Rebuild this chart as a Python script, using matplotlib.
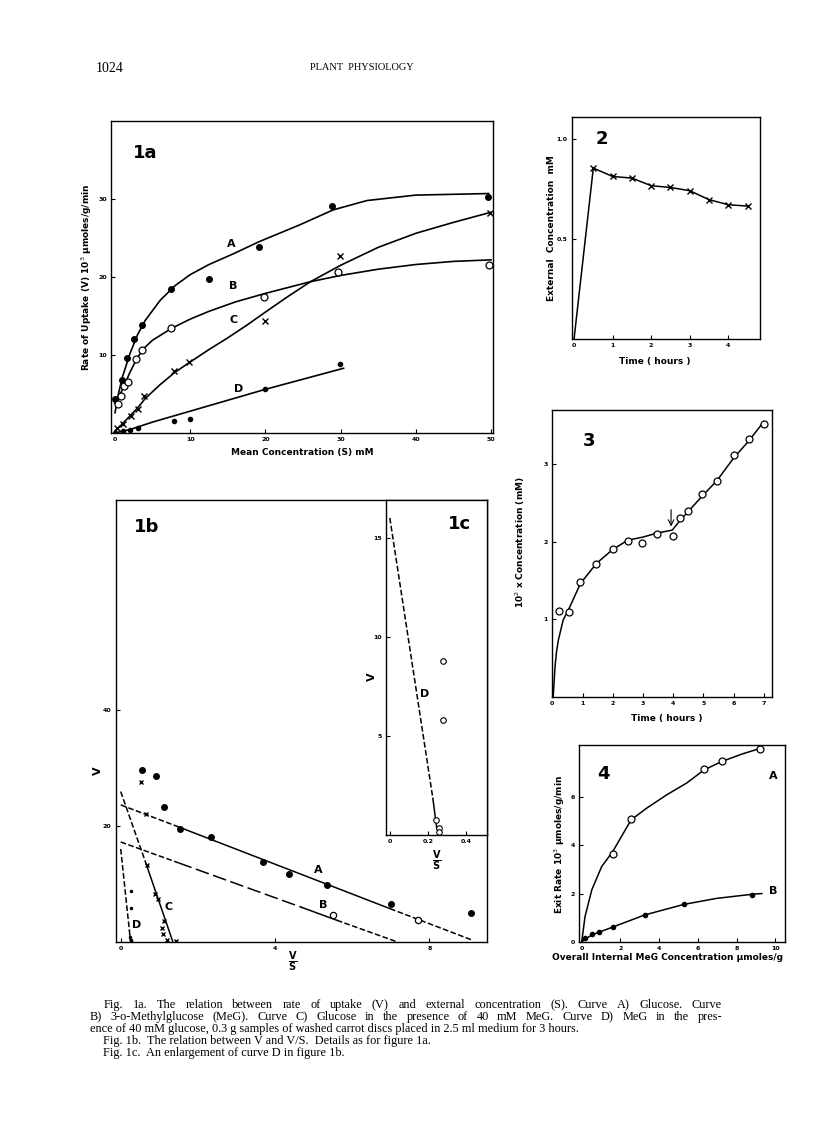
import matplotlib
matplotlib.use('Agg')
import matplotlib.pyplot as plt

W, H = 816, 1143

# ---------------- fig 1a : uptake rate vs concentration ----------------
s_a = [0, 0.9, 1.6, 2.5, 3.6, 7.5, 12.5, 19.1, 28.9, 49.6]
v_a = [4.3, 6.8, 9.6, 12.1, 13.9, 18.5, 19.8, 23.9, 29.1, 30.2]
s_b = [0.44, 0.75, 1.2, 1.7, 2.8, 3.6, 7.5, 19.8, 29.7, 49.7]
v_b = [3.7, 4.7, 6.0, 6.6, 9.5, 10.7, 13.4, 17.4, 20.7, 21.6]
s_c = [0.3, 1.0, 2.1, 3.0, 3.9, 7.9, 9.9, 19.9, 29.9, 49.9]
v_c = [0.6, 1.2, 2.2, 3.1, 4.8, 7.9, 9.1, 14.3, 22.7, 28.2]
s_d = [0, 1.0, 2.0, 3.0, 7.9, 10.0, 20.0, 29.9]
v_d = [0, 0.2, 0.4, 0.7, 1.6, 1.8, 5.6, 8.8]

fit_a_s = [0, 0.5, 1, 2, 3, 4, 6, 8, 10, 12.5, 15.8, 19.1, 24.6, 29, 33.5, 40, 49.7]
fit_a_v = [2.6, 5.2, 7.2, 10.2, 12.6, 14.4, 17.0, 18.9, 20.3, 21.6, 23.0, 24.5, 26.7, 28.6, 29.8, 30.5, 30.7]
fit_b_s = [0, 0.5, 1, 2, 3, 4, 5, 7.5, 10, 12.5, 16, 20, 26, 30, 35, 40, 45, 50]
fit_b_v = [3.8, 4.6, 5.6, 7.8, 9.7, 11.0, 11.9, 13.4, 14.6, 15.6, 16.8, 17.9, 19.4, 20.2, 21.0, 21.6, 22.0, 22.2]
fit_c_s = [0, 1, 2, 3, 4, 6, 8, 10, 12.5, 15, 17.5, 20, 23, 26, 30, 35, 40, 45, 50]
fit_c_v = [0.2, 1.2, 2.2, 3.2, 4.4, 6.2, 7.8, 9.1, 10.7, 12.2, 13.8, 15.5, 17.5, 19.4, 21.5, 23.8, 25.6, 27.0, 28.3]
fit_d_s = [0, 2, 5, 10, 20, 30.4]
fit_d_v = [0, 0.45, 1.4, 2.8, 5.6, 8.3]

# ---------------- fig 1b / 1c : V against V/S ----------------
vs_a = [0.54, 0.91, 1.13, 1.54, 2.34, 3.68, 4.36, 5.35, 7.0, 9.09]
vv_a = [29.6, 28.6, 23.3, 19.4, 18.1, 13.7, 11.6, 9.7, 6.5, 4.9]
vs_b = [5.49, 7.71]
vv_b = [4.6, 3.7]
vs_c = [0.52, 0.66, 0.68, 0.89, 0.97, 1.12, 1.06, 1.10, 1.19, 1.43]
vv_c = [27.6, 22.0, 13.3, 8.3, 7.3, 3.6, 2.3, 1.4, 0.3, 0.2]
vs_d = [0.243, 0.26, 0.257, 0.278, 0.278]
vv_d = [0.75, 0.34, 0.17, 8.8, 5.8]

line_a_x = [0, 1.54, 6.98, 9.1]
line_a_y = [23.6, 19.7, 5.7, 0.3]
line_b_x = [0, 1.5, 4.7, 5.6, 7.15]
line_b_y = [17.2, 13.6, 5.9, 3.7, 0]
line_c_x = [0, 0.67, 1.35]
line_c_y = [25.9, 13.2, 0]
line_d_x = [0, 0.226, 0.247]
line_d_y = [16.0, 1.85, 0.3]

# ---------------- fig 2 : external concentration with time ----------------
t2 = [0.5, 1.0, 1.5, 2.0, 2.5, 3.0, 3.5, 4.0, 4.5]
ext2 = [0.855, 0.813, 0.805, 0.767, 0.758, 0.742, 0.697, 0.672, 0.665]

# ---------------- fig 3 : internal concentration with time ----------------
t3 = [0.23, 0.54, 0.93, 1.46, 2.0, 2.51, 2.97, 3.45, 4.0, 4.24, 4.5, 4.94, 5.45, 6.0, 6.5, 7.0]
conc3 = [1.11, 1.09, 1.48, 1.71, 1.90, 2.01, 1.99, 2.10, 2.08, 2.30, 2.40, 2.62, 2.79, 3.12, 3.32, 3.52]
fit3_t = [0.03, 0.06, 0.09, 0.14, 0.2, 0.36, 0.58, 0.93, 1.46, 2.0, 2.5, 3.0, 3.45, 3.97, 4.24, 4.94, 5.45, 6.0, 6.5, 7.0]
fit3_c = [0, 0.2, 0.39, 0.58, 0.73, 0.99, 1.16, 1.46, 1.72, 1.90, 2.02, 2.06, 2.11, 2.15, 2.28, 2.58, 2.79, 3.08, 3.3, 3.55]

# ---------------- fig 4 : exit rate vs internal MeG ----------------
meg_a = [1.6, 2.55, 6.33, 7.25, 9.2]
exit_a = [3.66, 5.08, 7.18, 7.52, 8.0]
meg_b = [0.17, 0.52, 0.9, 1.64, 3.25, 5.28, 8.81]
exit_b = [0.14, 0.3, 0.42, 0.61, 1.1, 1.55, 1.96]
fit4a_m = [0, 0.17, 0.52, 1.03, 1.6, 2.55, 3.36, 4.39, 5.42, 6.33, 7.25, 8.3, 9.3]
fit4a_e = [0, 1.04, 2.15, 3.12, 3.74, 5.06, 5.55, 6.1, 6.59, 7.14, 7.49, 7.8, 8.05]
fit4b_m = [0, 0.52, 1.64, 3.25, 5.28, 6.97, 8.81, 9.3]
fit4b_e = [0, 0.28, 0.62, 1.11, 1.55, 1.8, 1.97, 2.0]

SANS = 'DejaVu Sans'
SERIF = 'Liberation Serif'
CAP = 8.8

fig = plt.figure(figsize=(W / 100, H / 100), dpi=100)
fig.patch.set_facecolor('white')


def box(left, top, right, bottom):
    return fig.add_axes([left / W, 1 - bottom / H, (right - left) / W, (bottom - top) / H])


def page_text(x, y, s, size, **kw):
    return fig.text(x / W, 1 - y / H, s, fontsize=size, **kw)


def style(ax):
    ax.tick_params(direction='in', length=3, width=0.8, labelsize=4.5, pad=3)
    for lab in ax.get_xticklabels() + ax.get_yticklabels():
        lab.set_fontweight('bold')
        lab.set_family(SANS)
    for sp in ax.spines.values():
        sp.set_linewidth(1.0)


def label(ax, x, y, s, size=8):
    ax.text(x, y, s, fontsize=size, fontweight='bold', family=SANS, ha='center', va='center')


# ---- fig 1a
ax = box(111, 121, 493, 433)
ax.plot(fit_a_s, fit_a_v, 'k-', lw=1.2)
ax.plot(fit_b_s, fit_b_v, 'k-', lw=1.2)
ax.plot(fit_c_s, fit_c_v, 'k-', lw=1.2)
ax.plot(fit_d_s, fit_d_v, 'k-', lw=1.2)
ax.plot(s_a, v_a, 'ko', ms=4)
ax.plot(s_b, v_b, 'o', mfc='white', mec='k', mew=0.9, ms=5)
ax.plot(s_c, v_c, 'kx', ms=4, mew=1)
ax.plot(s_d, v_d, 'ko', ms=3)
ax.set_xlim(-0.53, 50.27)
ax.set_ylim(0, 40)
ax.set_xticks([0, 10, 20, 30, 40, 50])
ax.set_yticks([10, 20, 30])
style(ax)
label(ax, 15.5, 24.2, 'A')
label(ax, 15.7, 18.9, 'B')
label(ax, 15.8, 14.5, 'C')
label(ax, 16.4, 5.6, 'D')
label(ax, 4.0, 35.9, '1a', 13)
ax.set_xlabel('Mean Concentration (S) mM', fontsize=6.5, fontweight='bold', family=SANS, labelpad=4)
ax.set_ylabel('Rate of Uptake (V) 10$^3$ \u03bcmoles/g/min', fontsize=6.5, fontweight='bold',
              family=SANS, labelpad=3)

# ---- fig 1b
ax = box(115.7, 500, 487.3, 941.7)
styles_a = ['--', '-', '--']
for i in range(3):
    ax.plot(line_a_x[i:i + 2], line_a_y[i:i + 2], color='k', ls=styles_a[i], lw=1.1)
styles_b = ['--', (0, (9, 3)), '-', '--']
for i in range(4):
    ax.plot(line_b_x[i:i + 2], line_b_y[i:i + 2], color='k', ls=styles_b[i], lw=1.1)
ax.plot(line_c_x[:2], line_c_y[:2], 'k--', lw=1.1)
ax.plot(line_c_x[1:], line_c_y[1:], 'k-', lw=1.1)
ax.plot(line_d_x[:2], line_d_y[:2], 'k--', lw=1.1)
ax.plot(line_d_x[1:], line_d_y[1:], 'k-', lw=1.1)
ax.plot(vs_a, vv_a, 'ko', ms=4)
ax.plot(vs_b, vv_b, 'o', mfc='white', mec='k', mew=0.9, ms=4.5)
ax.plot(vs_c, vv_c, 'kx', ms=3.5, mew=1)
ax.plot(vs_d, vv_d, 'ko', ms=1.5)
ax.set_xlim(-0.13, 9.5)
ax.set_ylim(0, 76.2)
ax.set_xticks([0, 4, 8])
ax.set_yticks([20, 40])
style(ax)
label(ax, 5.12, 12.4, 'A')
label(ax, 5.25, 6.3, 'B')
label(ax, 1.24, 6.0, 'C')
label(ax, 0.4, 2.9, 'D')
label(ax, 0.67, 71.6, '1b', 13)
page_text(98, 771, 'V', 8, fontweight='bold', family=SANS, rotation=90, ha='center', va='center')
page_text(293, 962, r'$\mathbf{\frac{V}{S}}$', 10, ha='center', va='center')

# ---- fig 1c inset
ax = box(386, 500, 487.3, 835)
ax.plot(line_d_x[:2], line_d_y[:2], 'k--', lw=1.1)
ax.plot(line_d_x[1:], line_d_y[1:], 'k-', lw=1.1)
ax.plot(vs_d, vv_d, 'o', mfc='white', mec='k', mew=0.8, ms=4)
ax.set_xlim(-0.02, 0.512)
ax.set_ylim(0, 16.9)
ax.set_xticks([0, 0.2, 0.4])
ax.set_xticklabels(['0', '0.2', '0.4'])
ax.set_yticks([5, 10, 15])
style(ax)
label(ax, 0.183, 7.1, 'D')
label(ax, 0.365, 15.7, '1c', 13)
page_text(372, 677, 'V', 8, fontweight='bold', family=SANS, rotation=90, ha='center', va='center')
page_text(437, 861, r'$\mathbf{\frac{V}{S}}$', 10, ha='center', va='center')

# ---- fig 2
ax = box(571.7, 117, 760, 339.3)
ax.plot([0] + t2, [0] + ext2, 'k-', lw=1.1)
ax.plot(t2, ext2, 'kx', ms=4, mew=1)
ax.set_xlim(-0.06, 4.82)
ax.set_ylim(0, 1.11)
ax.set_xticks([0, 1, 2, 3, 4])
ax.set_yticks([0.5, 1.0])
style(ax)
label(ax, 0.72, 1.0, '2', 13)
page_text(552, 228, 'External  Concentration  mM', 6.5, fontweight='bold', family=SANS,
          rotation=90, ha='center', va='center')
page_text(655, 362, 'Time ( hours )', 6.5, fontweight='bold', family=SANS, ha='center', va='center')

# ---- fig 3
ax = box(552, 410, 772, 696.7)
ax.plot(fit3_t, fit3_c, 'k-', lw=1.1)
ax.plot(t3, conc3, 'o', mfc='white', mec='k', mew=0.9, ms=5)
ax.annotate('', xy=(3.93, 2.16), xytext=(3.93, 2.45),
            arrowprops=dict(arrowstyle='->', color='k', lw=0.8))
ax.set_xlim(-0.01, 7.27)
ax.set_ylim(0, 3.7)
ax.set_xticks([0, 1, 2, 3, 4, 5, 6, 7])
ax.set_yticks([1, 2, 3])
style(ax)
label(ax, 1.2, 3.3, '3', 13)
page_text(520, 542, '10$^2$ x Concentration (mM)', 6.5, fontweight='bold', family=SANS,
          rotation=90, ha='center', va='center')
page_text(667, 719, 'Time ( hours )', 6.5, fontweight='bold', family=SANS, ha='center', va='center')

# ---- fig 4
ax = box(579, 745, 785, 941.7)
ax.plot(fit4a_m, fit4a_e, 'k-', lw=1.1)
ax.plot(fit4b_m, fit4b_e, 'k-', lw=1.1)
ax.plot(meg_a, exit_a, 'o', mfc='white', mec='k', mew=0.9, ms=5)
ax.plot(meg_b, exit_b, 'ko', ms=3)
ax.set_xlim(-0.14, 10.5)
ax.set_ylim(0, 8.17)
ax.set_xticks([0, 2, 4, 6, 8, 10])
ax.set_yticks([0, 2, 4, 6])
style(ax)
label(ax, 9.9, 6.9, 'A')
label(ax, 9.9, 2.1, 'B')
label(ax, 1.1, 6.95, '4', 13)
page_text(560, 845, 'Exit Rate 10$^3$ \u03bcmoles/g/min', 6.5, fontweight='bold', family=SANS,
          rotation=90, ha='center', va='center')
page_text(667, 958, 'Overall Internal MeG Concentration \u03bcmoles/g', 6.5, fontweight='bold',
          family=SANS, ha='center', va='center')

# ---- header and caption
page_text(96, 68, '1024', 10, family=SERIF, va='center')
page_text(362, 68, 'PLANT  PHYSIOLOGY', 7.5, family=SERIF, ha='center', va='center')

renderer = fig.canvas.get_renderer()


def justify(x0, x1, y, line, size):
    words = line.split()
    texts = [page_text(0, y, w, size, family=SERIF, va='center') for w in words]
    widths = [t.get_window_extent(renderer).width for t in texts]
    gap = (x1 - x0 - sum(widths)) / (len(words) - 1)
    x = x0
    for t, w in zip(texts, widths):
        t.set_x(x / W)
        x += w + gap


justify(104, 722, 1005, 'Fig. 1a.  The relation between rate of uptake (V) and external concentration (S).  '
        'Curve A) Glucose.  Curve', CAP)
justify(90, 722, 1017, 'B) 3-o-Methylglucose (MeG).  Curve C) Glucose in the presence of 40 mM MeG.  '
        'Curve D) MeG in the pres-', CAP)
page_text(90, 1029, 'ence of 40 mM glucose, 0.3 g samples of washed carrot discs placed in 2.5 ml medium '
          'for 3 hours.', CAP, family=SERIF, va='center')
page_text(103, 1041, 'Fig. 1b.  The relation between V and V/S.  Details as for figure 1a.', CAP,
          family=SERIF, va='center')
page_text(103, 1053, 'Fig. 1c.  An enlargement of curve D in figure 1b.', CAP, family=SERIF, va='center')

fig.savefig('out.png', dpi=100, facecolor='white')
